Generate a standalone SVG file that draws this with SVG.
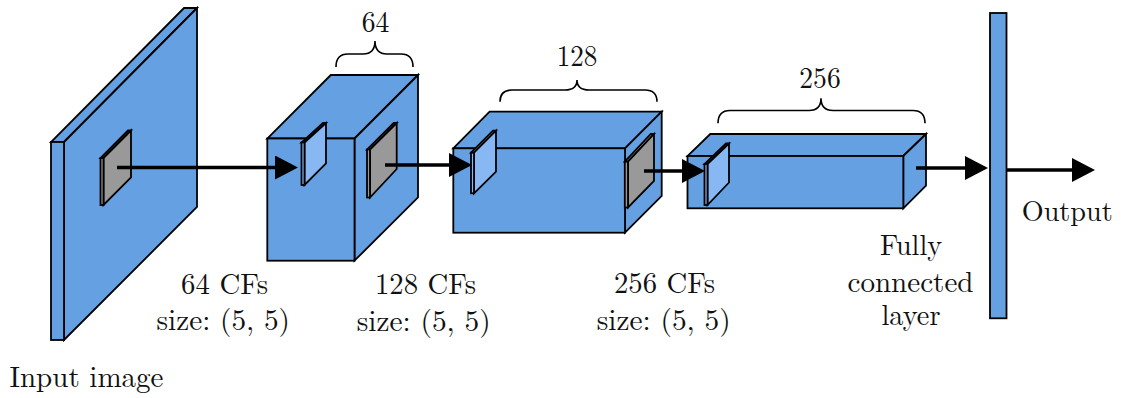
<svg xmlns="http://www.w3.org/2000/svg" width="1127" height="398" viewBox="0 0 1127 398" font-family="Latin Modern Roman, Liberation Serif, serif" font-size="29">
  <style>
    .blk { fill: #64a0e2; stroke: #000; stroke-width: 1.8; stroke-linejoin: miter; }
    .flt { fill: #88b8f4; stroke: #000; stroke-width: 1.8; }
    .pat { fill: #999999; stroke: #000; stroke-width: 1.8; }
    .brace { fill: none; stroke: #000; stroke-width: 1.6; }
    .arrow { fill: none; stroke: #000; stroke-width: 3.3; marker-end: url(#head); }
    .lbl { fill: #111; }
  </style>
  <defs>
    <marker id="head" markerUnits="userSpaceOnUse" markerWidth="23" markerHeight="24" refX="2" refY="12" orient="auto">
      <path d="M0,0 L23,12 L0,24 Z" fill="#000"/>
    </marker>
  </defs>

  <rect width="1127" height="398" fill="#fff"/>

  <!-- input image slab -->
  <g id="input">
    <polygon class="blk" points="51,142 64,142 197,8 184,8"/>
    <polygon class="blk" points="64,142 197,8 197,207 64,340"/>
    <rect class="blk" x="51" y="142" width="13" height="198"/>
    <!-- receptive patch -->
    <polygon class="pat" points="100.5,158 103.5,158 131,130.5 128,130.5"/>
    <polygon class="pat" points="103.5,158 131,130.5 131,177.5 103.5,205"/>
    <rect class="pat" x="100.5" y="158" width="3" height="47"/>
    <text class="lbl" x="9.5" y="386.5" textLength="154" lengthAdjust="spacingAndGlyphs">Input image</text>
  </g>

  <!-- first convolution block: 64 feature maps -->
  <g id="conv1">
    <polygon class="blk" points="267.3,138.5 354.5,138.5 418,75 330.8,75"/>
    <polygon class="blk" points="354.5,138.5 418,75 418,197.3 354.5,260.7"/>
    <rect class="blk" x="267.3" y="138.5" width="87.2" height="122.2"/>
    <!-- filter -->
    <polygon class="flt" points="301.5,142.5 304.5,142.5 326,123 323,123"/>
    <polygon class="flt" points="304.5,142.5 326,123 326,163.3 304.5,185"/>
    <rect class="flt" x="301.5" y="142.5" width="3" height="42.5"/>
    <!-- output patch -->
    <polygon class="pat" points="367,149.5 370,149.5 396.7,123 393.7,123"/>
    <polygon class="pat" points="370,149.5 396.7,123 396.7,169 370,197.5"/>
    <rect class="pat" x="367" y="149.5" width="3" height="48"/>
    <path class="brace" d="M336,67 Q336,54 348,54 L363,54 Q375,54 375,41 Q375,54 387,54 L401,54 Q413,54 413,67"/>
    <text class="lbl" x="361.7" y="32" textLength="27.6" lengthAdjust="spacingAndGlyphs">64</text>
    <text class="lbl" x="181" y="293.5" textLength="87" lengthAdjust="spacingAndGlyphs">64 CFs</text>
    <text class="lbl" x="156.5" y="330" textLength="133.5" lengthAdjust="spacingAndGlyphs">size: (5, 5)</text>
  </g>

  <!-- second convolution block: 128 feature maps -->
  <g id="conv2">
    <polygon class="blk" points="453.3,148.3 625,148.3 661.7,111.7 489.6,111.7"/>
    <polygon class="blk" points="625,148.3 661.7,111.7 661.7,196 625,232.7"/>
    <rect class="blk" x="453.3" y="148.3" width="171.7" height="84.4"/>
    <polygon class="flt" points="471,152.7 474,152.7 496,130.7 493,130.7"/>
    <polygon class="flt" points="474,152.7 496,130.7 496,171.7 474,193.3"/>
    <rect class="flt" x="471" y="152.7" width="3" height="40.6"/>
    <polygon class="pat" points="624.8,161.7 628,161.7 654,134 650.8,134"/>
    <polygon class="pat" points="628,161.7 654,134 654,181 628,207.5"/>
    <rect class="pat" x="624.8" y="161.7" width="3.2" height="45.8"/>
    <path class="brace" d="M500,101.7 Q500,90 512,90 L565,90 Q577,90 577,80 Q577,90 589,90 L645,90 Q657,90 657,101.7"/>
    <text class="lbl" x="556.7" y="65.7" textLength="40.6" lengthAdjust="spacingAndGlyphs">128</text>
    <text class="lbl" x="375" y="293.5" textLength="101" lengthAdjust="spacingAndGlyphs">128 CFs</text>
    <text class="lbl" x="356.7" y="330.5" textLength="134" lengthAdjust="spacingAndGlyphs">size: (5, 5)</text>
  </g>

  <!-- third convolution block: 256 feature maps -->
  <g id="conv3">
    <polygon class="blk" points="687.5,156 903.3,156 926,134 710.3,134"/>
    <polygon class="blk" points="903.3,156 926,134 926,185.7 903.3,208.3"/>
    <rect class="blk" x="687.5" y="156" width="215.8" height="52.3"/>
    <polygon class="flt" points="704.5,164 707.5,164 729,143.5 726,143.5"/>
    <polygon class="flt" points="707.5,164 729,143.5 729,182.5 707.5,205"/>
    <rect class="flt" x="704.5" y="164" width="3" height="41"/>
    <path class="brace" d="M718,123.3 Q718,110.5 730,110.5 L809,110.5 Q821,110.5 821,98.3 Q821,110.5 833,110.5 L913,110.5 Q925,110.5 925,123.3"/>
    <text class="lbl" x="799.3" y="88.3" textLength="41.4" lengthAdjust="spacingAndGlyphs">256</text>
    <text class="lbl" x="614" y="293" textLength="101" lengthAdjust="spacingAndGlyphs">256 CFs</text>
    <text class="lbl" x="596.7" y="330" textLength="134" lengthAdjust="spacingAndGlyphs">size: (5, 5)</text>
  </g>

  <!-- fully connected layer -->
  <g id="fc">
    <rect class="blk" x="990" y="13" width="16.5" height="305.3"/>
    <text class="lbl" x="880" y="255" textLength="62" lengthAdjust="spacingAndGlyphs">Fully</text>
    <text class="lbl" x="847.5" y="291.7" textLength="126" lengthAdjust="spacingAndGlyphs">connected</text>
    <text class="lbl" x="881.5" y="325" textLength="59" lengthAdjust="spacingAndGlyphs">layer</text>
  </g>

  <g id="output">
    <text class="lbl" x="1021.7" y="220.7" textLength="91" lengthAdjust="spacingAndGlyphs">Output</text>
  </g>

  <!-- connectors -->
  <g id="connectors">
    <line class="arrow" x1="117" y1="167.5" x2="277" y2="167.5"/>
    <line class="arrow" x1="385" y1="165" x2="451" y2="165"/>
    <line class="arrow" x1="644" y1="171" x2="684" y2="171"/>
    <line class="arrow" x1="916" y1="168" x2="967" y2="168"/>
    <line class="arrow" x1="1006.5" y1="170" x2="1074" y2="170"/>
  </g>
</svg>
